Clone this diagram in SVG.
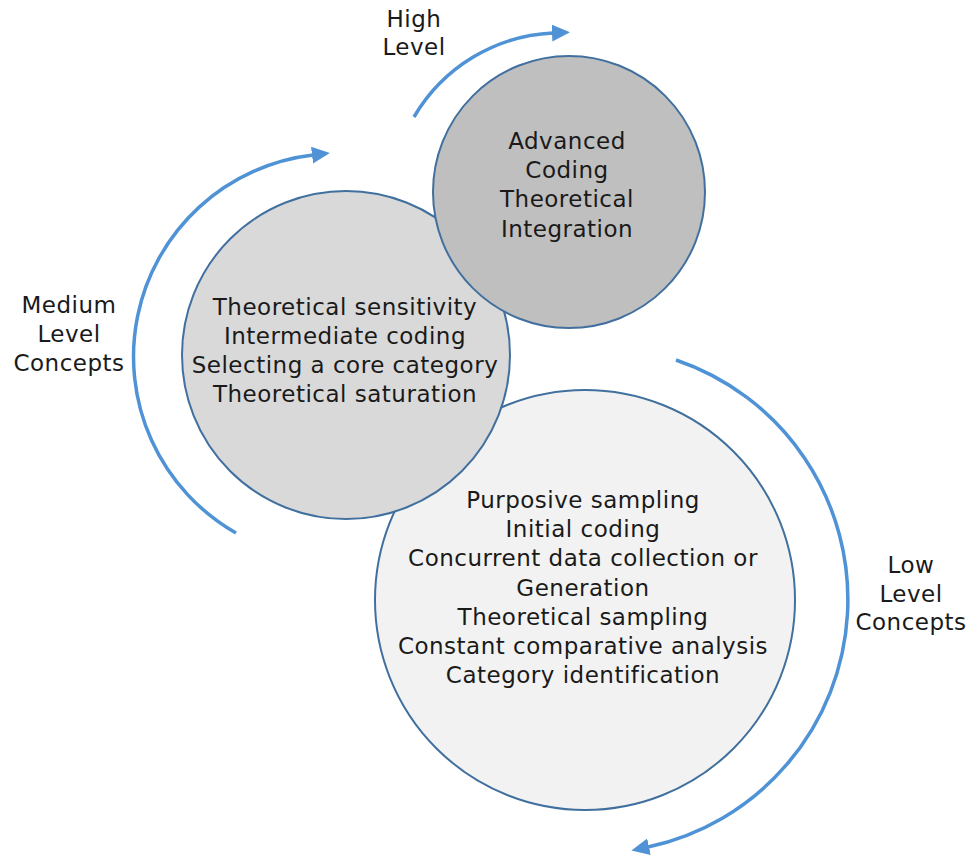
<svg xmlns="http://www.w3.org/2000/svg" width="971" height="863" viewBox="0 0 971 863">
<style>
.node circle{stroke:#41709f;stroke-width:2}
.t{font-family:"DejaVu Sans",Verdana,sans-serif;font-size:23px;letter-spacing:0.5px;fill:#1a1a1a;text-anchor:middle}
.arc{fill:none;stroke:#4f93d6;stroke-width:3.5;marker-end:url(#ah)}
</style>
<defs>
<marker id="ah" markerUnits="userSpaceOnUse" markerWidth="20" markerHeight="18" refX="1" refY="8.5" orient="auto">
<path d="M0,0 L18,8.5 L0,17 z" fill="#4f93d6"/>
</marker>
</defs>
<rect width="971" height="863" fill="#ffffff"/>
<g id="connectors">
<path class="arc" d="M414,117 A170,170 0 0 1 553,33"/>
<path class="arc" d="M236,533 A203,203 0 0 1 313,155"/>
<path class="arc" d="M676,360 A253,253 0 0 1 648,847"/>
</g>
<g id="node-low" class="node">
<circle cx="585" cy="600" r="210" fill="#f2f2f2"/>
<text class="t" x="583" y="508">Purposive sampling</text>
<text class="t" x="583" y="537">Initial coding</text>
<text class="t" x="583" y="566">Concurrent data collection or</text>
<text class="t" x="583" y="596">Generation</text>
<text class="t" x="583" y="625">Theoretical sampling</text>
<text class="t" x="583" y="654">Constant comparative analysis</text>
<text class="t" x="583" y="683">Category identification</text>
</g>
<g id="node-medium" class="node">
<circle cx="346" cy="355" r="164" fill="#d9d9d9"/>
<text class="t" x="345" y="315">Theoretical sensitivity</text>
<text class="t" x="345" y="344">Intermediate coding</text>
<text class="t" x="345" y="373">Selecting a core category</text>
<text class="t" x="345" y="402">Theoretical saturation</text>
</g>
<g id="node-high" class="node">
<circle cx="569" cy="192" r="136" fill="#bfbfbf"/>
<text class="t" x="567" y="149">Advanced</text>
<text class="t" x="567" y="178">Coding</text>
<text class="t" x="567" y="207">Theoretical</text>
<text class="t" x="567" y="237">Integration</text>
</g>
<g id="labels">
<text class="t" x="414" y="27">High</text>
<text class="t" x="414" y="55">Level</text>
<text class="t" x="69" y="313">Medium</text>
<text class="t" x="69" y="342">Level</text>
<text class="t" x="69" y="371">Concepts</text>
<text class="t" x="911" y="573">Low</text>
<text class="t" x="911" y="602">Level</text>
<text class="t" x="911" y="630">Concepts</text>
</g>
</svg>
